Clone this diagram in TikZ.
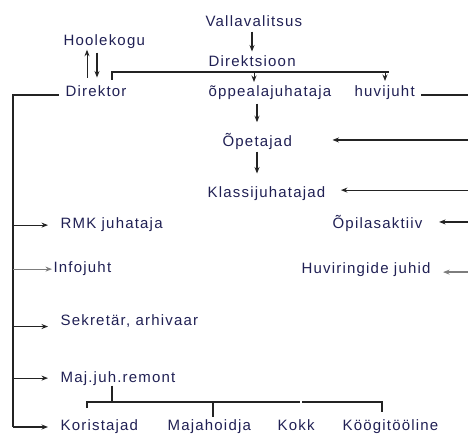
\documentclass[tikz,border=0pt]{standalone}
\usepackage{fontspec}
\setmainfont{Liberation Sans}[LetterSpace=8]
\usepackage{tikz}
\usetikzlibrary{arrows.meta,positioning}
\definecolor{unittext}{RGB}{32,32,84}
\definecolor{linkline}{RGB}{35,35,35}
\definecolor{softline}{RGB}{125,125,125}

\begin{document}
\begin{tikzpicture}[x=1pt,y=-1pt,>={Stealth[length=6.5pt,width=5pt]},line width=1.2pt,draw=linkline,
		unit/.style={inner sep=0pt,anchor=base west,text=unittext,
			font=\fontsize{15}{18}\selectfont}]
		\useasboundingbox (0,0) rectangle (468,435);
		
		% top of the structure
		\node[unit] (valla) at (205,27) {Vallavalitsus};
		\node[unit] (direk) at (208,67) {Direktsioon};
		\node[unit] (hoole) at (63,46) {Hoolekogu};
		\node[unit] (dir) at (65,97) {Direktor};
		\node[unit] (oppe) at (208,97) {õppealajuhataja};
		\node[unit] (huvi) at (354,97) {huvijuht};
		\node[unit] (opet) at (222,147) {Õpetajad};
		\node[unit] (klass) at (207,198) {Klassijuhatajad};
		\node[unit] (opil) at (332,229) {Õpilasaktiiv};
		\node[unit] (huvir) at (301,274) {Huviringide juhid};
		% left column
		\node[unit] (rmk) at (60,229) {RMK juhataja};
		\node[unit] (info) at (53,273) {Infojuht};
		\node[unit] (sekr) at (60,325) {Sekretär, arhivaar};
		\node[unit] (maj) at (60,382) {Maj.juh.remont};
		% bottom row
		\node[unit] (kor) at (60,430) {Koristajad};
		\node[unit] (majah) at (167,430) {Majahoidja};
		\node[unit] (kokk) at (277,430) {Kokk};
		\node[unit] (kook) at (342,430) {Köögitööline};
		
		\coordinate (edge) at (468,0);
		\coordinate (bar left) at (112,72);
		\coordinate (bar right) at (389,72);
		\coordinate (spine top) at (13,95);
		\coordinate (spine bottom) at (13,427);
		\coordinate (mbar left) at (87,402);
		\coordinate (mbar right) at (382,402);
		
		\draw[->,shorten <=4pt,shorten >=4pt] (valla.south -| 252,0) -- (direk.north -| 252,0);
		\draw[->,line width=0.9pt,shorten <=8pt] (dir.north -| 87,0) -- (hoole.south -| 87,0);
		\draw[->,shorten <=3pt,shorten >=8pt] (hoole.south -| 97,0) -- (dir.north -| 97,0);
		
		% Direktsioon bar
		\draw ([yshift=-8pt]bar left) -- (bar left) -- (bar right);
		\draw[->,line width=0.9pt] (bar left -| 254,0) -- ++(0,10);
		\draw[->,line width=0.9pt] (bar left -| 385,0) -- ++(0,9);
		
		\draw[->,shorten <=3pt,shorten >=11pt] (oppe.south -| 257,0) -- (opet.north -| 257,0);
		\draw[->,shorten <=1pt,shorten >=13pt] (opet.south -| 257,0) -- (klass.north -| 257,0);
		
		% right side
		\draw ([xshift=6pt]huvi.east |- spine top) -- (edge |- spine top);
		\draw[->,shorten >=40pt] ([yshift=2pt]edge |- opet.east) -- ([yshift=2pt]opet.east);
		\draw[->,shorten >=15pt] ([yshift=4pt]edge |- klass.east) -- ([yshift=4pt]klass.east);
		\draw[->,line width=1.8pt,shorten >=16pt] ([yshift=2pt]edge |- opil.east) -- ([yshift=2pt]opil.east);
		\draw[->,draw=softline,line width=1.5pt,shorten >=12pt] ([yshift=-2pt]edge |- huvir.east) -- ([yshift=-2pt]huvir.east);
		
		% left spine
		\draw (spine bottom) -- (spine top) -- ([xshift=-6pt]dir.west |- spine top);
		\draw[->,shorten >=12pt] (spine top |- rmk.west) -- (rmk.west);
		\draw[->,draw=softline,shorten >=1pt] (spine top |- info.west) -- (info.west);
		\draw[->,shorten >=12pt] ([yshift=-6pt]spine top |- sekr.west) -- ([yshift=-6pt]sekr.west);
		\draw[->,shorten >=12pt] (spine top |- maj.west) -- (maj.west);
		\draw[->,shorten >=12pt] (spine bottom) -- (spine bottom -| kor.west);
		
		% Maj.juh.remont bar
		\draw (maj.south -| 112,0) -- (mbar left -| 112,0);
		\draw ([yshift=-6pt]mbar left) -- (mbar left) -- (mbar left -| 300,0);
		\draw (mbar left -| 302,0) -- (mbar right) -- ++(0,10);
		\draw (mbar left -| 213,0) -- ++(0,15);
\end{tikzpicture}
\end{document}
